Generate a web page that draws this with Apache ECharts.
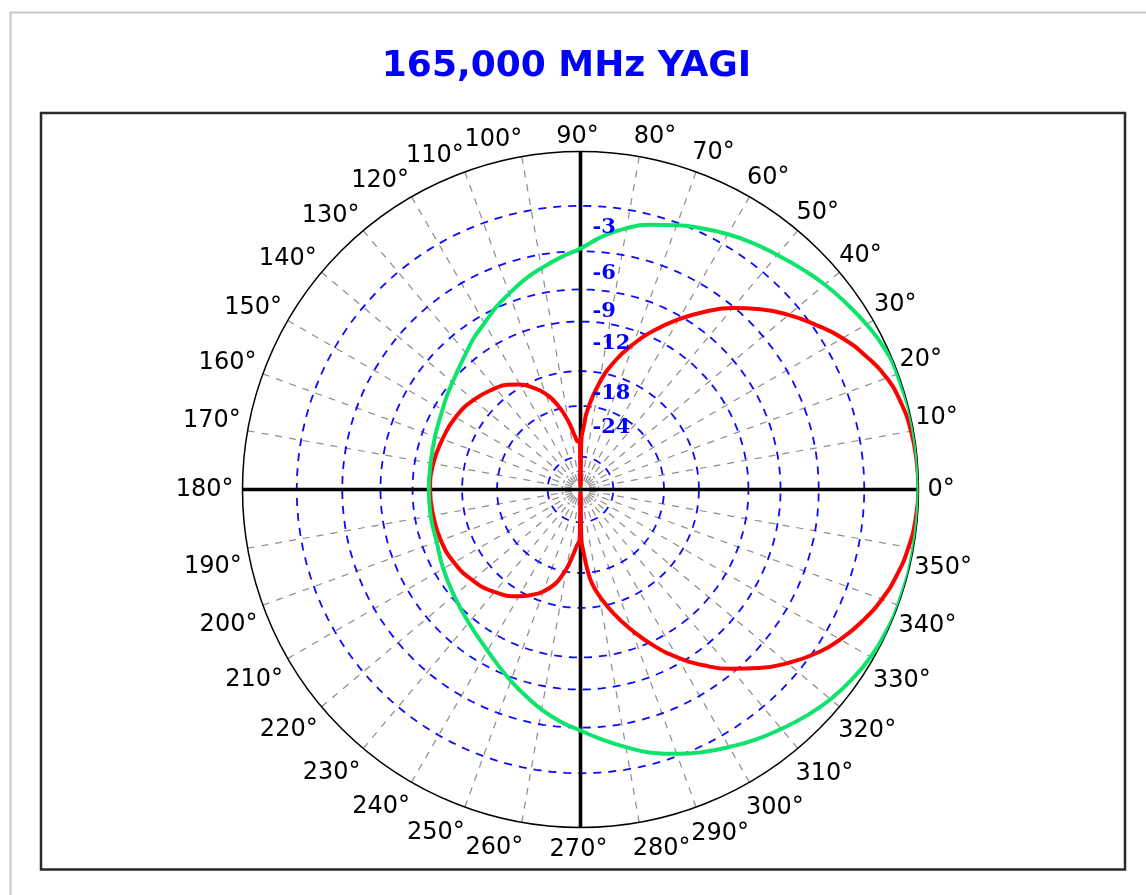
<!DOCTYPE html>
<html>
<head>
<meta charset="utf-8">
<script src="https://cdn.jsdelivr.net/npm/echarts@6/dist/echarts.min.js"></script>
<style>
html,body{margin:0;padding:0;background:#ffffff;}
#chart{width:1146px;height:895px;}
</style>
</head>
<body>
<div id="chart"></div>
<script>
// ---------- data ----------
const titleText = '165,000 MHz YAGI';

const angleTicks = [0,10,20,30,40,50,60,70,80,90,100,110,120,130,140,150,160,170,
                    180,190,200,210,220,230,240,250,260,270,280,290,300,310,320,330,340,350];
const angleTickLabels = ['0°','10°','20°','30°','40°','50°','60°','70°','80°','90°','100°','110°',
                         '120°','130°','140°','150°','160°','170°','180°','190°','200°','210°','220°',
                         '230°','240°','250°','260°','270°','280°','290°','300°','310°','320°','330°',
                         '340°','350°'];

const ringDb = [-3, -6, -9, -12, -18, -24, -40];
const ringLabels = ['-3', '-6', '-9', '-12', '-18', '-24', ''];
const innerRingDb = [-50];

// red: Yagi pattern (dB)
const redAngles = [0,5,10,15,20,25,30,35,40,45,50,55,60,65,70,75,80,85,87,89,90,
                   91,93,96,100,105,110,115,120,125,130,140,150,160,170,180,190,200,210,220,230,240,245,250,255,258,261,264,266,269,270,
                   271,273,275,277,280,285,290,295,300,305,310,315,320,325,330,335,340,345,350,355];
const redDb = [0,-0.04,-0.12,-0.3,-0.62,-1.2,-1.9,-2.8,-3.75,-4.85,-6.1,-7.6,-9.3,-11.2,-13.4,-16.0,-19.6,-24.8,-28.8,-33,-80,
               -33,-33.5,-31.5,-27.3,-23.3,-20.6,-18.9,-17.6,-16.7,-16.1,-15.2,-14.6,-14.3,-14.0,-13.9,-14.0,-14.1,-14.4,-15.0,-15.9,-17.3,-18.3,-19.5,-21.3,-23.2,-25.5,-28.6,-30.5,-33,-80,
               -33,-28.5,-24.5,-21.8,-19.6,-16.6,-14.0,-11.6,-9.55,-7.8,-6.3,-5.0,-3.85,-2.85,-2.05,-1.42,-0.9,-0.52,-0.25,-0.08];

// green: comparison pattern (dB)
const greenAngles = [0,10,20,25,30,35,40,45,50,55,60,65,70,75,80,85,90,95,100,105,110,115,120,125,130,135,140,145,150,160,170,
                     180,190,200,210,220,230,240,245,250,255,260,265,270,275,280,285,290,295,300,305,310,315,320,325,330,335,340,350];
const greenDb = [0,0,-0.05,-0.15,-0.4,-0.7,-1.0,-1.35,-1.7,-2.0,-2.35,-2.75,-3.15,-3.6,-4.15,-4.9,-5.8,-6.4,-7.0,-7.6,-8.3,-8.95,-9.7,-10.3,-11.0,-11.6,-12.1,-12.5,-12.9,-13.4,-13.7,
                 -13.75,-13.7,-13.6,-13.0,-12.3,-11.4,-10.25,-9.5,-8.7,-7.9,-7.1,-6.4,-5.8,-5.1,-4.4,-3.7,-3.15,-2.65,-2.2,-1.75,-1.35,-0.95,-0.6,-0.35,-0.15,-0.05,0,0];

// ---------- helpers ----------
// ARRL log-periodic scale: each 2 dB step multiplies radius by 0.89
function dbToR(db) { return Math.pow(0.89, -db / 2); }
function patternData(angles, dbs) {
  const d = angles.map((a, i) => [dbToR(dbs[i]), a]);
  d.push([d[0][0], 360]);
  return d;
}
const circleAngles = [];
for (let a = 0; a <= 360; a += 3) circleAngles.push(a);
function ringData(db) { return circleAngles.map(a => [dbToR(db), a]); }

const CX = 580.5, CY = 489.5, RADIUS = 338;
const labelR = 1 + 9 / RADIUS;

// text alignment and small nudge of each angle label, by quadrant
function labelLayout(a) {
  if (a === 0) return { align: 'left', verticalAlign: 'middle', offset: [0, 0] };
  if (a === 180) return { align: 'right', verticalAlign: 'middle', offset: [0, 0] };
  if (a === 90) return { align: 'center', verticalAlign: 'bottom', offset: [-3, 6] };
  if (a === 270) return { align: 'center', verticalAlign: 'top', offset: [-2, 1] };
  if (a < 90) return { align: 'left', verticalAlign: 'bottom', offset: [-7, 1] };
  if (a < 180) return { align: 'right', verticalAlign: 'bottom', offset: [2, 4] };
  if (a < 270) return { align: 'right', verticalAlign: 'top', offset: [3, 5] };
  return { align: 'left', verticalAlign: 'top', offset: [-8, 6] };
}

const series = [];
// blue dashed dB rings
ringDb.forEach(db => {
  series.push({
    type: 'line', coordinateSystem: 'polar', silent: true, symbol: 'none', z: 2,
    data: ringData(db),
    lineStyle: { color: '#0a0aff', width: 1.8, type: [8, 7] }
  });
});
innerRingDb.forEach(db => {
  series.push({
    type: 'line', coordinateSystem: 'polar', silent: true, symbol: 'none', z: 2,
    data: ringData(db),
    lineStyle: { color: '#8c8c8c', width: 1.2, type: [3, 3] }
  });
});
// thick black axes
series.push({
  type: 'line', coordinateSystem: 'polar', silent: true, symbol: 'none', z: 3,
  data: [[1, 0], [1, 180]], lineStyle: { color: '#000', width: 3.6 }
});
series.push({
  type: 'line', coordinateSystem: 'polar', silent: true, symbol: 'none', z: 3,
  data: [[1, 90], [1, 270]], lineStyle: { color: '#000', width: 3.6 }
});
// patterns
series.push({
  name: 'Yagi', type: 'line', coordinateSystem: 'polar', symbol: 'none', smooth: 0.5, z: 4,
  data: patternData(redAngles, redDb), lineStyle: { color: '#ff0000', width: 4 }
});
series.push({
  name: 'Reference', type: 'line', coordinateSystem: 'polar', symbol: 'none', smooth: 0.5, z: 5,
  data: patternData(greenAngles, greenDb), lineStyle: { color: '#0ee46c', width: 4 }
});
// ring labels
series.push({
  type: 'scatter', coordinateSystem: 'polar', silent: true, clip: false, z: 6,
  symbolSize: 1, itemStyle: { color: 'rgba(0,0,0,0)', opacity: 1 },
  data: ringDb.map((db, i) => ({ value: [dbToR(db), 90], name: ringLabels[i] })),
  label: {
    show: true, position: 'inside', offset: [12, 22], align: 'left', verticalAlign: 'middle',
    formatter: p => p.name,
    fontFamily: 'DejaVu Serif', fontWeight: 'bold', fontSize: 21, color: '#0000ff'
  }
});
// angle labels
series.push({
  type: 'scatter', coordinateSystem: 'polar', silent: true, clip: false, z: 6,
  symbolSize: 1, itemStyle: { color: 'rgba(0,0,0,0)', opacity: 1 },
  data: angleTicks.map((a, i) => ({ value: [labelR, a], name: angleTickLabels[i], label: labelLayout(a) })),
  label: {
    show: true, position: 'inside', formatter: p => p.name,
    fontFamily: 'DejaVu Sans', fontSize: 24, color: '#000000'
  }
});

const option = {
  animation: false,
  backgroundColor: '#ffffff',
  title: {
    text: titleText, left: 566.5, top: 47, textAlign: 'center', padding: 0,
    textStyle: { fontFamily: 'DejaVu Sans', fontSize: 36, fontWeight: 'bold', color: '#0000ff', lineHeight: 40 }
  },
  graphic: [
    { type: 'rect', silent: true, z: -10, shape: { x: 10.5, y: 12.5, width: 1300, height: 1000 },
      style: { fill: null, stroke: '#c8c8c0', lineWidth: 2 } },
    { type: 'rect', silent: true, z: -10, shape: { x: 41, y: 113, width: 1084, height: 756.5 },
      style: { fill: null, stroke: '#2a2a2a', lineWidth: 2.5 } }
  ],
  polar: { center: [CX, CY], radius: RADIUS },
  angleAxis: {
    type: 'value', min: 0, max: 360, interval: 10, startAngle: 0, clockwise: false,
    axisLine: { show: true, lineStyle: { color: '#000', width: 1.5 } },
    axisTick: { show: false },
    axisLabel: { show: false },
    splitLine: { show: true, lineStyle: { color: '#8c8c8c', width: 1.2, type: [7, 7] } }
  },
  radiusAxis: {
    type: 'value', min: 0, max: 1,
    axisLine: { show: false }, axisTick: { show: false }, axisLabel: { show: false },
    splitLine: { show: false }
  },
  series: series
};

const chart = echarts.init(document.getElementById('chart'), null, { renderer: 'canvas' });
chart.setOption(option);
</script>
</body>
</html>
